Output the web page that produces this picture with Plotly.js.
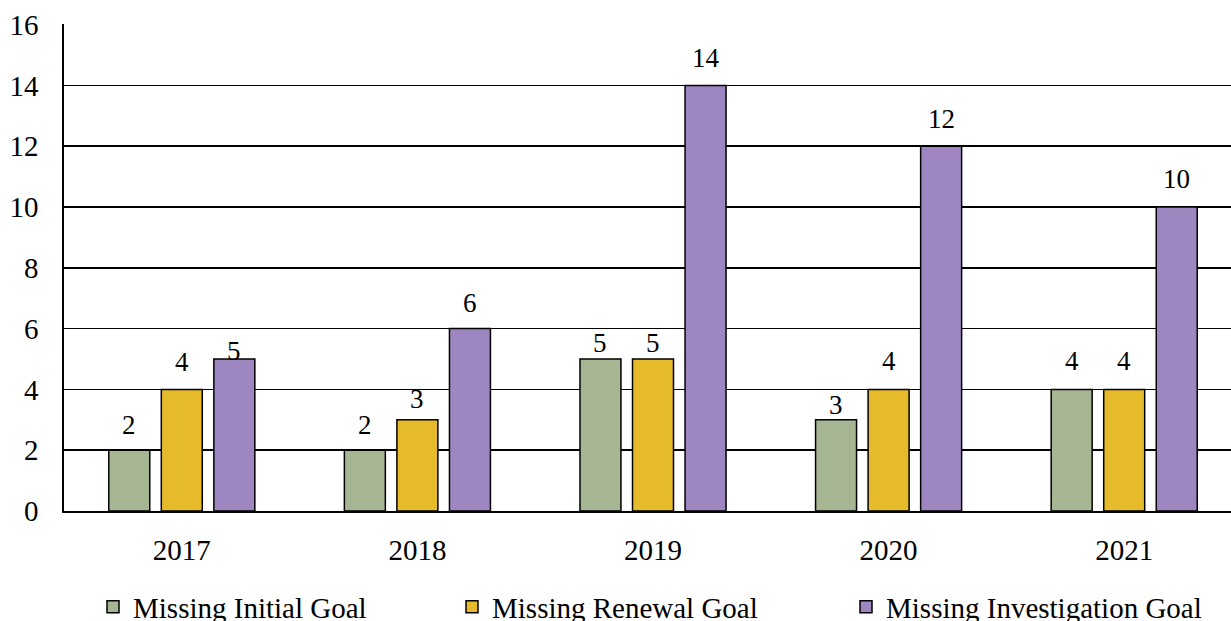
<!DOCTYPE html>
<html>
<head>
<meta charset="utf-8">
<script src="https://cdn.plot.ly/plotly-3.0.1.min.js"></script>
<style>
  html, body { margin: 0; padding: 0; background: #ffffff; overflow: hidden; }
  #chart { width: 1250px; height: 640px; }
</style>
</head>
<body>
<div id="chart"></div>
<script>
// Goals missed per year, by goal type
const years = ['2017', '2018', '2019', '2020', '2021'];
const missingInitial = [2, 2, 5, 3, 4];
const missingRenewal = [4, 3, 5, 4, 4];
const missingInvestigation = [5, 6, 14, 12, 10];

const seriesNames = ['Missing Initial Goal', 'Missing Renewal Goal', 'Missing Investigation Goal'];
const seriesColors = ['#A6B592', '#E5BA2B', '#9E86C1'];

// distance (px) from each bar top to the centre of its value label
const labelLift = [
  [25, 25, 16, 15, 28],
  [27, 21, 16, 28, 28],
  [8, 26, 27, 27, 28]
];

const FONT = 'Liberation Serif, Times New Roman, serif';
const W = 1250, H = 640;
const margin = { l: 64, r: 8, t: 24, b: 129 };
const bargap = 0.331;
const bargroupgap = 0.22;

const seriesValues = [missingInitial, missingRenewal, missingInvestigation];
const legendIds = ['legend', 'legend2', 'legend3'];
const legendX = [93, 452, 846];   // left edge of each legend box, px

const traces = seriesValues.map((vals, i) => ({
  type: 'bar',
  name: seriesNames[i],
  x: years,
  y: vals,
  legend: legendIds[i],
  marker: { color: seriesColors[i], line: { color: '#000000', width: 1.5 } },
  hoverinfo: 'x+y+name'
}));

// value labels, shifted sideways onto their bar within the group
const plotW = W - margin.l - margin.r;
const catPx = plotW / years.length;
const slotPx = catPx * (1 - bargap) / seriesValues.length;
const annotations = [];
seriesValues.forEach((vals, i) => {
  vals.forEach((v, j) => {
    annotations.push({
      x: j, y: v, xref: 'x', yref: 'y',
      text: String(v), showarrow: false,
      xshift: (i - (seriesValues.length - 1) / 2) * slotPx,
      yshift: labelLift[i][j],
      yanchor: 'middle',
      font: { family: FONT, size: 27, color: '#000000' }
    });
  });
});

const legendBase = {
  orientation: 'h',
  xref: 'container', yref: 'container',
  xanchor: 'left', yanchor: 'middle',
  y: (H - 607) / H,
  itemwidth: 30,
  font: { family: FONT, size: 29, color: '#000000' },
  bgcolor: 'rgba(0,0,0,0)'
};

const layout = {
  width: W, height: H,
  margin: margin,
  paper_bgcolor: '#ffffff',
  plot_bgcolor: '#ffffff',
  barmode: 'group',
  bargap: bargap,
  bargroupgap: bargroupgap,
  font: { family: FONT, color: '#000000' },
  xaxis: {
    type: 'category',
    categoryorder: 'array',
    categoryarray: years,
    range: [-0.5, years.length - 0.5],
    showgrid: false,
    showline: true, linecolor: '#000000', linewidth: 2,
    ticks: '',
    tickfont: { family: FONT, size: 29, color: '#000000' },
    ticklabelstandoff: 12,
    fixedrange: true
  },
  yaxis: {
    range: [0, 16.02],
    tickvals: [0, 2, 4, 6, 8, 10, 12, 14, 16],
    showgrid: true, gridcolor: '#000000', gridwidth: 1.6,
    zeroline: false,
    showline: true, linecolor: '#000000', linewidth: 1.6,
    ticks: '',
    tickfont: { family: FONT, size: 29, color: '#000000' },
    ticklabelstandoff: 18,
    fixedrange: true
  },
  showlegend: true,
  annotations: annotations
};
legendIds.forEach((id, i) => {
  layout[id] = Object.assign({}, legendBase, { x: legendX[i] / W });
});

Plotly.newPlot('chart', traces, layout, { displayModeBar: false, staticPlot: true });
</script>
</body>
</html>
